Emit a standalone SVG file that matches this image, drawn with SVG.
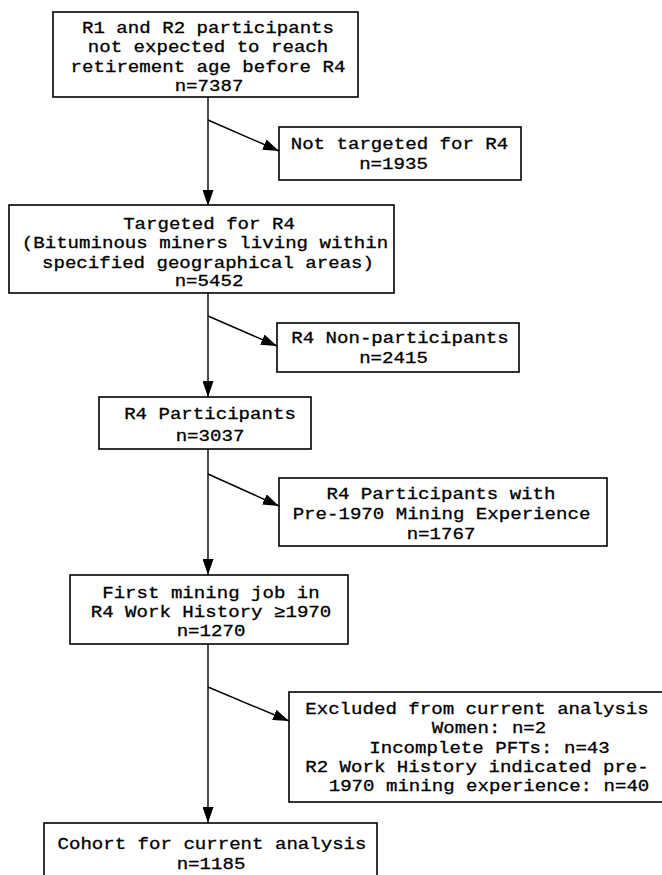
<svg xmlns="http://www.w3.org/2000/svg" width="662" height="875" viewBox="0 0 662 875">
<style>
.box{fill:#fff;stroke:#000;stroke-width:1.6}
.t{font-family:"Liberation Mono","Courier New",monospace;font-size:16.5px;fill:#000;stroke:#000;stroke-width:0.3;text-anchor:middle}
.c{fill:none;stroke:#000;stroke-width:1.4}
</style>
<defs>
<marker id="ah" viewBox="0 0 16 11" refX="16" refY="5.5" markerWidth="16" markerHeight="11" markerUnits="userSpaceOnUse" orient="auto">
<path d="M0,0 L16,5.5 L0,11 Z" fill="#000"/>
</marker>
</defs>
<rect width="662" height="875" fill="#fff"/>
<g id="connectors">
<line class="c" x1="208" y1="97" x2="208" y2="206" marker-end="url(#ah)"/>
<line class="c" x1="208" y1="120" x2="279" y2="151" marker-end="url(#ah)"/>
<line class="c" x1="208" y1="293" x2="208" y2="397" marker-end="url(#ah)"/>
<line class="c" x1="208" y1="316" x2="277" y2="346" marker-end="url(#ah)"/>
<line class="c" x1="208" y1="449" x2="208" y2="575" marker-end="url(#ah)"/>
<line class="c" x1="208" y1="474" x2="279" y2="506" marker-end="url(#ah)"/>
<line class="c" x1="208" y1="644" x2="208" y2="823" marker-end="url(#ah)"/>
<line class="c" x1="208" y1="687" x2="289" y2="721" marker-end="url(#ah)"/>
</g>
<g id="n1">
<rect class="box" x="53" y="12" width="305" height="85"/>
<text class="t" x="208" y="33" textLength="252" lengthAdjust="spacingAndGlyphs">R1 and R2 participants</text>
<text class="t" x="208" y="52" textLength="240.5" lengthAdjust="spacingAndGlyphs">not expected to reach</text>
<text class="t" x="208" y="72" textLength="274.8" lengthAdjust="spacingAndGlyphs">retirement age before R4</text>
<text class="t" x="209" y="91" textLength="68.7" lengthAdjust="spacingAndGlyphs">n=7387</text>
</g>
<g id="n2">
<rect class="box" x="279" y="127" width="242" height="53"/>
<text class="t" x="399.5" y="149" textLength="217.6" lengthAdjust="spacingAndGlyphs">Not targeted for R4</text>
<text class="t" x="393.5" y="169" textLength="68.7" lengthAdjust="spacingAndGlyphs">n=1935</text>
</g>
<g id="n3">
<rect class="box" x="9" y="205" width="385" height="88"/>
<text class="t" x="209" y="229" textLength="171.75" lengthAdjust="spacingAndGlyphs">Targeted for R4</text>
<text class="t" x="205" y="248" textLength="366.4" lengthAdjust="spacingAndGlyphs">(Bituminous miners living within</text>
<text class="t" x="208" y="268" textLength="332" lengthAdjust="spacingAndGlyphs">specified geographical areas)</text>
<text class="t" x="209" y="286" textLength="68.7" lengthAdjust="spacingAndGlyphs">n=5452</text>
</g>
<g id="n4">
<rect class="box" x="277" y="323" width="242" height="49"/>
<text class="t" x="400" y="343" textLength="217.6" lengthAdjust="spacingAndGlyphs">R4 Non-participants</text>
<text class="t" x="393.5" y="363" textLength="68.7" lengthAdjust="spacingAndGlyphs">n=2415</text>
</g>
<g id="n5">
<rect class="box" x="99" y="397" width="212" height="52"/>
<text class="t" x="210" y="419" textLength="171.75" lengthAdjust="spacingAndGlyphs">R4 Participants</text>
<text class="t" x="210" y="441" textLength="68.7" lengthAdjust="spacingAndGlyphs">n=3037</text>
</g>
<g id="n6">
<rect class="box" x="279" y="478" width="328" height="68"/>
<text class="t" x="441" y="499" textLength="229" lengthAdjust="spacingAndGlyphs">R4 Participants with</text>
<text class="t" x="441.5" y="519" textLength="297.7" lengthAdjust="spacingAndGlyphs">Pre-1970 Mining Experience</text>
<text class="t" x="441" y="539" textLength="68.7" lengthAdjust="spacingAndGlyphs">n=1767</text>
</g>
<g id="n7">
<rect class="box" x="70" y="575" width="278" height="69"/>
<text class="t" x="211" y="598" textLength="217.6" lengthAdjust="spacingAndGlyphs">First mining job in</text>
<text class="t" x="211" y="617" textLength="240.5" lengthAdjust="spacingAndGlyphs">R4 Work History ≥1970</text>
<text class="t" x="211" y="636" textLength="68.7" lengthAdjust="spacingAndGlyphs">n=1270</text>
</g>
<g id="n8">
<rect class="box" x="289" y="692" width="400" height="110"/>
<text class="t" x="477" y="714" textLength="343.5" lengthAdjust="spacingAndGlyphs">Excluded from current analysis</text>
<text class="t" x="489" y="733" textLength="114.5" lengthAdjust="spacingAndGlyphs">Women: n=2</text>
<text class="t" x="489.5" y="753" textLength="240.5" lengthAdjust="spacingAndGlyphs">Incomplete PFTs: n=43</text>
<text class="t" x="477" y="772" textLength="343.5" lengthAdjust="spacingAndGlyphs">R2 Work History indicated pre-</text>
<text class="t" x="489" y="791" textLength="320.6" lengthAdjust="spacingAndGlyphs">1970 mining experience: n=40</text>
</g>
<g id="n9">
<rect class="box" x="44" y="823" width="333" height="70"/>
<text class="t" x="212" y="849" textLength="309" lengthAdjust="spacingAndGlyphs">Cohort for current analysis</text>
<text class="t" x="211" y="869" textLength="68.7" lengthAdjust="spacingAndGlyphs">n=1185</text>
</g>
</svg>
